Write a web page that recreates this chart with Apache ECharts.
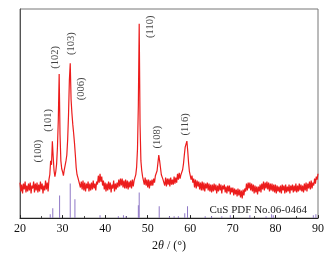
<!DOCTYPE html>
<html><head><meta charset="utf-8">
<script src="https://cdn.jsdelivr.net/npm/echarts@6/dist/echarts.min.js"></script>
<style>html,body{margin:0;padding:0;background:#fff}#c{width:336px;height:257px}</style>
</head><body><div id="c"></div>
<script>
// XRD intensity sampled every 0.2 deg from 20.0 to 90.0 (arbitrary units)
const scanStart = 20, scanStep = 0.2;
const intensity = [
36,27,34,25,35, 29,37,26,33,27, 35,28,36,25,33, 30,37,26,35,28, 36,26,34,27,37,
29,35,25,33,28, 38,29,36,27,39, 44,58,54,78,62, 48,42,47,55,72, 100,146,85,58,50,
47,43,49,50,58, 64,80,105,140,157, 120,106,95,86,76, 64,51,44,41,42, 39,31,37,29,38,
28,36,27,35,30, 37,27,35,28,36, 29,38,30,35,28, 37,34,43,36,45, 37,42,33,38,29,
36,27,35,28,37, 29,36,26,34,30, 38,27,35,29,36, 31,39,32,40,33, 40,31,38,30,39,
30,38,29,37,31, 38,30,39,32,38, 41,44,52,70,115, 197,95,58,48,42, 40,34,41,33,39,
31,39,30,38,33, 39,33,40,36,43, 44,48,56,64,58, 51,44,42,39,41, 33,41,32,40,34,
40,32,41,34,39, 34,42,35,41,36, 45,39,46,40,44, 44,49,55,64,72, 75,78,68,56,47,
45,39,43,36,40, 31,39,30,38,32, 37,29,36,28,37, 28,36,27,35,30, 36,28,35,27,34,
26,34,27,35,28, 34,25,33,27,35, 28,34,25,33,29, 34,26,32,25,33, 27,33,24,31,26,
31,23,30,24,29, 22,30,23,29,21, 28,20,29,23,30, 27,35,28,36,30, 36,28,35,27,34,
25,33,26,32,24, 32,27,34,26,35, 29,37,28,36,30, 37,29,36,27,35, 28,35,27,34,26,
34,25,33,27,32, 26,33,25,34,28, 33,25,34,26,32, 27,34,25,33,28, 34,26,33,27,35,
26,33,27,35,28, 34,27,33,26,35, 28,36,27,35,30, 37,29,38,30,36, 33,40,35,42,39,
45
];
// CuS PDF No.06-0464 reference lines
const refPos = [27.1,27.7,29.3,31.8,32.9,38.8,43.1,44.3,44.9,47.8,48.0,52.7,55.1,56.2,57.2,58.7,59.35,63.5,65.0,67.4,69.4,74.0,77.8,79.1,79.5,88.9,89.5];
const refInt = [4,10,23,35,19,3,2,3,2,13,26,12,2,2,2,5,12,2,2,2,3,3,2,4,3,3,4];
// peak annotations
const peakNames = ['(100)','(101)','(102)','(103)','(006)','(110)','(108)','(116)'];
const peakLabelX = [24.2,26.6,28.2,32.0,34.3,50.5,52.2,58.8];
const peakLabelY = [68,99,163,177,131,194,82,95];
const xTicks = [20,30,40,50,60,70,80,90];

const serif = '"Liberation Serif","Times New Roman",serif';
const curve = intensity.map((v,i)=>[+(scanStart+i*scanStep).toFixed(2), v]);
const sticks = refPos.map((p,i)=>[p, refInt[i]]);
const labels = peakNames.map((n,i)=>({value:[peakLabelX[i], peakLabelY[i]], name:n}));

const chart = echarts.init(document.getElementById('c'), null, {renderer:'canvas'});
chart.setOption({
  animation:false,
  backgroundColor:'#fff',
  grid:{left:20,right:18,top:9,bottom:36,show:true,borderColor:'#777',borderWidth:1},
  title:{text:'CuS PDF No.06-0464',right:29,top:205,padding:0,textStyle:{fontFamily:serif,fontSize:11,fontWeight:'normal',color:'#222'}},
  xAxis:{type:'value',min:20,max:90,interval:10,
    axisLine:{show:true,lineStyle:{color:'#222',width:1}},
    axisTick:{show:true,inside:true,length:3,lineStyle:{color:'#222'}},
    minorTick:{show:true,splitNumber:2,length:2,lineStyle:{color:'#444'}},
    splitLine:{show:false},
    axisLabel:{fontFamily:serif,fontSize:12,color:'#111',margin:5,formatter:v=>xTicks.includes(v)?String(v):''},
    name:'{n|2}{i|θ}{n| / (°)}',nameLocation:'middle',nameGap:18,
    nameTextStyle:{rich:{n:{fontFamily:serif,fontSize:12,color:'#111'},i:{fontFamily:serif,fontSize:12,fontStyle:'italic',color:'#111'}}}
  },
  yAxis:{type:'value',min:0,max:212,axisLine:{show:true,lineStyle:{color:'#555'}},axisTick:{show:false},axisLabel:{show:false},splitLine:{show:false}},
  series:[
    {type:'bar',data:sticks,barWidth:1,itemStyle:{color:'#8f78c6'},silent:true,z:1},
    {type:'line',data:curve,showSymbol:false,symbol:'none',lineStyle:{color:'#ec1c1c',width:1.2},z:2},
    {type:'scatter',data:labels,symbolSize:0,z:3,
      label:{show:true,position:'inside',rotate:90,formatter:p=>p.name,fontFamily:serif,fontSize:10.5,color:'#111'}}
  ]
});
</script></body></html>
